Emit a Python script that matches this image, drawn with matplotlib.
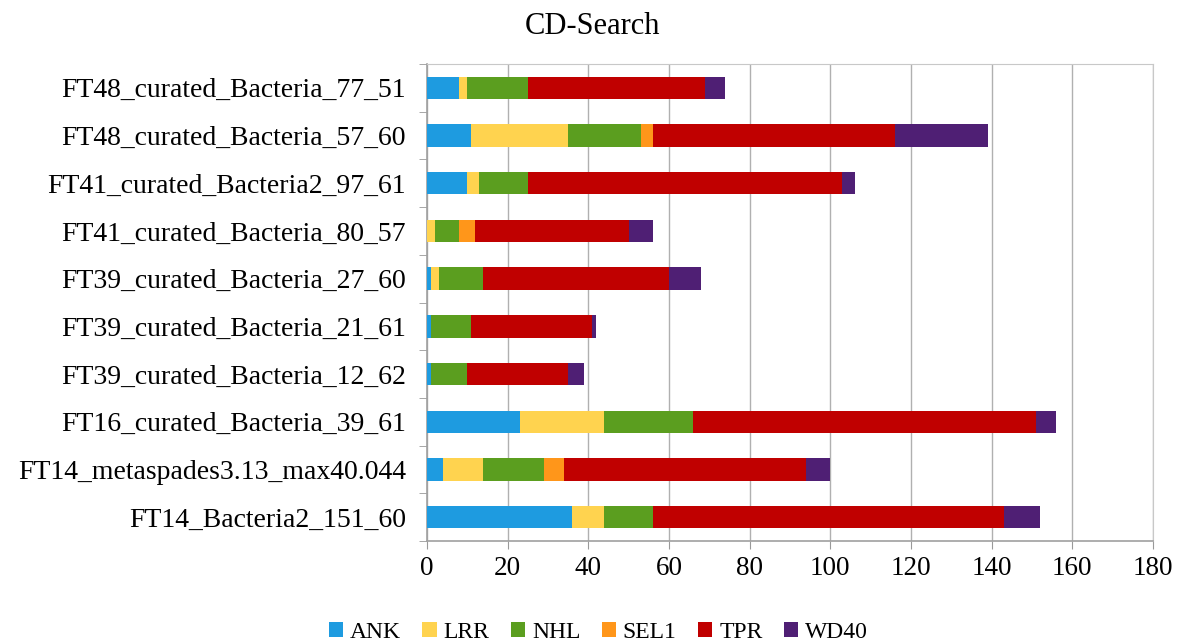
import matplotlib
matplotlib.use("Agg")
import matplotlib.pyplot as plt
import numpy as np
from matplotlib.ticker import FixedLocator

categories = [
    "FT48_curated_Bacteria_77_51",
    "FT48_curated_Bacteria_57_60",
    "FT41_curated_Bacteria2_97_61",
    "FT41_curated_Bacteria_80_57",
    "FT39_curated_Bacteria_27_60",
    "FT39_curated_Bacteria_21_61",
    "FT39_curated_Bacteria_12_62",
    "FT16_curated_Bacteria_39_61",
    "FT14_metaspades3.13_max40.044",
    "FT14_Bacteria2_151_60",
]
ANK  = [8, 11, 10, 0, 1, 1, 1, 23, 4, 36]
LRR  = [2, 24, 3, 2, 2, 0, 0, 21, 10, 8]
NHL  = [15, 18, 12, 6, 11, 10, 9, 22, 15, 12]
SEL1 = [0, 3, 0, 4, 0, 0, 0, 0, 5, 0]
TPR  = [44, 60, 78, 38, 46, 30, 25, 85, 60, 87]
WD40 = [5, 23, 3, 6, 8, 1, 4, 5, 6, 9]
series_names = ["ANK", "LRR", "NHL", "SEL1", "TPR", "WD40"]
colors = ["#1E9BE0", "#FFD34F", "#5B9E1F", "#FF961A", "#C00000", "#4F1F74"]
xticks = [0, 20, 40, 60, 80, 100, 120, 140, 160, 180]

plt.rcParams['font.family'] = ['Liberation Serif', 'DejaVu Serif']

fig = plt.figure(figsize=(11.85, 6.43), dpi=100)
ax = fig.add_axes([427/1185, 1-541/643, (1153-427)/1185, (541-64)/643])

data = [ANK, LRR, NHL, SEL1, TPR, WD40]
y = np.arange(len(categories))
left = np.zeros(len(categories))
for name, vals, c in zip(series_names, data, colors):
    vals = np.array(vals, dtype=float)
    ax.barh(y, vals, left=left, height=0.47, color=c, label=name, zorder=3)
    left += vals

ax.set_ylim(len(categories) - 0.5, -0.5)
ax.set_xlim(0, 180)
ax.set_yticks(y)
ax.set_yticklabels(categories, fontsize=20)
ax.yaxis.set_minor_locator(FixedLocator(np.arange(-0.5, len(categories), 1)))
ax.tick_params(axis='y', which='major', length=0, pad=15)
ax.tick_params(axis='y', which='minor', length=6, color='#999999', direction='out')
ax.set_xticks(xticks)
ax.set_xticklabels([str(t) for t in xticks], fontsize=19.5)
ax.tick_params(axis='x', length=6, color='#999999', pad=5)

ax.grid(axis='x', color='#b0b0b0', linewidth=1, zorder=0)
for s in ['top', 'right']:
    ax.spines[s].set_color('#c8c8c8')
for s in ['left', 'bottom']:
    ax.spines[s].set_color('#a0a0a0')
    ax.spines[s].set_linewidth(1.2)

fig.text(0.5, 1-26/643, "CD-Search", ha='center', va='center', fontsize=22)

leg = fig.legend(loc='center', bbox_to_anchor=(0.505, 1-632/643), ncol=6, frameon=False,
                 fontsize=17, handlelength=0.6, handleheight=0.6, handletextpad=0.3,
                 columnspacing=0.9)

fig.savefig("out.png", dpi=100)
